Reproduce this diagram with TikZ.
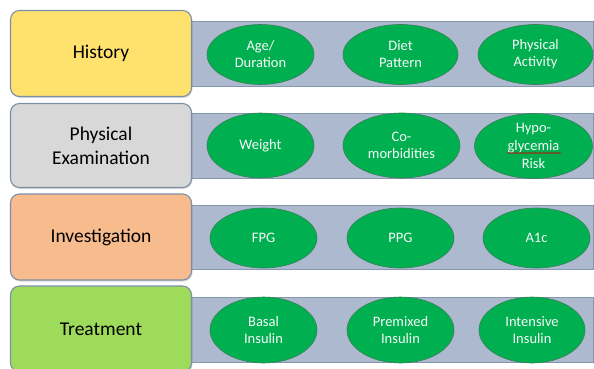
\documentclass[tikz,border=0pt]{standalone}
\usepackage{fontspec}
\setmainfont{Carlito}
\usetikzlibrary{shadows,decorations.pathmorphing,shapes.geometric}
\definecolor{bandfill}{HTML}{ADB9CE}
\definecolor{bandline}{HTML}{8497B0}
\definecolor{ovalfill}{HTML}{00B050}
\definecolor{ovalline}{HTML}{3C7D5A}
\definecolor{boxline}{HTML}{7D8FA6}
\definecolor{cyellow}{HTML}{FFE26E}
\definecolor{cgray}{HTML}{D8D8D8}
\definecolor{corange}{HTML}{F8BB8E}
\definecolor{cgreen}{HTML}{9EDB5A}
\tikzset{
  catbox/.style={draw=boxline, line width=1.1pt, rounded corners=9pt,
    drop shadow={shadow xshift=1pt, shadow yshift=-1.5pt, opacity=0.3},
    minimum width=181pt, align=center, font=\fontsize{19.5}{24}\selectfont, text=black, inner sep=0pt},
  band/.style={draw=bandline, fill=bandfill, line width=0.8pt},
  oval/.style={ellipse, draw=ovalline, fill=ovalfill, line width=0.6pt, text=white!95!gray,
    align=center, font=\fontsize{14.5}{17}\selectfont, inner sep=0pt},
  squiggle/.style={red!80!black, line width=0.5pt, decorate,
    decoration={snake, amplitude=0.6pt, segment length=2.5pt}},
}
\begin{document}
\begin{tikzpicture}[x=1pt,y=-1pt]
\useasboundingbox (0,0) rectangle (594,368);
\clip (0,0) rectangle (594,368);
\fill[white] (0,0) rectangle (594,368);
% bands
\draw[band] (150,21) rectangle (593,86);
\draw[band] (150,113) rectangle (593,178);
\draw[band] (150,205) rectangle (593,269);
\draw[band] (150,297) rectangle (593,362);
% category boxes
\node[catbox, fill=cyellow, minimum height=86pt] (hist) at (101,53.5) {History};
\node[catbox, fill=cgray, minimum height=84pt] (phys) at (101,145.5) {Physical\\Examination};
\node[catbox, fill=corange, minimum height=86pt] (inv) at (101,237) {Investigation};
\node[catbox, fill=cgreen, minimum height=86pt] (treat) at (101,329) {Treatment};
% ovals row 1
\node[oval, minimum width=107pt, minimum height=60pt] (age) at (260.5,54.5) {Age/\\Duration};
\node[oval, minimum width=115pt, minimum height=60pt] (diet) at (400.5,54.5) {Diet\\Pattern};
\node[oval, minimum width=115pt, minimum height=60pt] (pa) at (535.5,54.5) {Physical\\Activity};
% row 2
\node[oval, minimum width=107pt, minimum height=65pt] (wt) at (260.5,145.5) {Weight};
\node[oval, minimum width=117pt, minimum height=65pt] (com) at (401.5,145.5) {Co-\\morbidities};
\node[oval, minimum width=118pt, minimum height=65pt, font=\fontsize{14.5}{18}\selectfont] (hypo) at (533.5,146) {Hypo-\\glycemia\\Risk};
\draw[squiggle] ([xshift=-26pt,yshift=-7pt]hypo.center) -- ([xshift=28pt,yshift=-7pt]hypo.center);
% row 3
\node[oval, minimum width=107pt, minimum height=60pt] (fpg) at (263.5,238) {FPG};
\node[oval, minimum width=107pt, minimum height=60pt] (ppg) at (400.5,238) {PPG};
\node[oval, minimum width=107pt, minimum height=60pt] (a1c) at (536.5,238) {A1c};
% row 4
\node[oval, minimum width=107pt, minimum height=66pt] (basal) at (263.5,330) {Basal\\Insulin};
\node[oval, minimum width=107pt, minimum height=66pt] (prem) at (400.5,330) {Premixed\\Insulin};
\node[oval, minimum width=106pt, minimum height=66pt] (intens) at (532,330) {Intensive\\Insulin};
\end{tikzpicture}
\end{document}
